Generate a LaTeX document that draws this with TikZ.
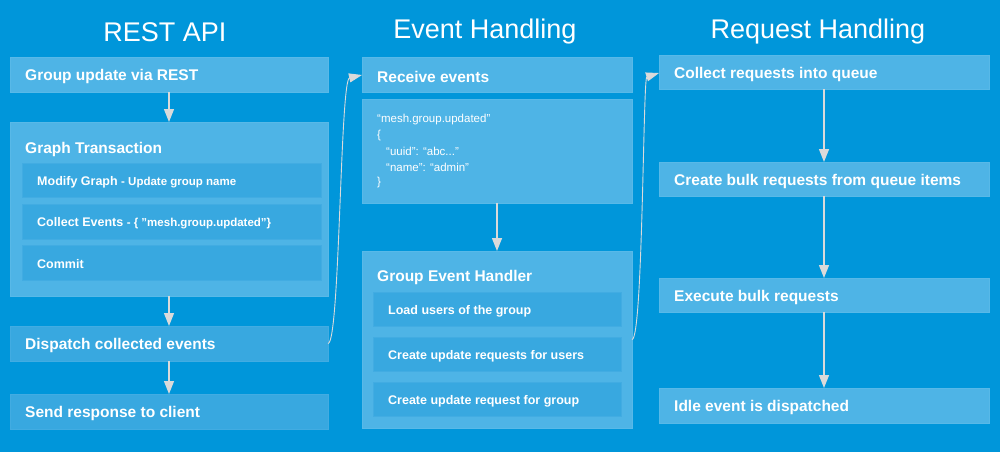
\documentclass[tikz,border=0pt]{standalone}
\usepackage{fontspec}
\setmainfont{Liberation Sans}
\usetikzlibrary{arrows.meta}
\definecolor{bg}{RGB}{0,150,218}
\definecolor{lightbox}{RGB}{78,180,230}
\definecolor{darkbox}{RGB}{56,168,224}
\definecolor{lightedge}{RGB}{88,185,232}
\definecolor{darkedge}{RGB}{66,172,226}
\definecolor{conn}{RGB}{218,218,218}
\tikzset{
  lbox/.style={fill=lightbox, draw=lightedge, line width=0.8pt},
  dbox/.style={fill=darkbox, draw=darkedge, line width=0.8pt},
  title/.style={text=white, font=\fontsize{27}{30}\selectfont, anchor=center, inner sep=0pt},
  lbl/.style={text=white, font=\fontsize{15.5}{18}\selectfont\bfseries, anchor=west, inner sep=0pt, yshift=-2pt},
  slbl/.style={text=white, font=\fontsize{12.5}{15}\selectfont\bfseries, anchor=west, inner sep=0pt, yshift=-2pt},
  json/.style={text=white, font=\fontsize{11.5}{13}\selectfont, anchor=west, inner sep=0pt},
  flow/.style={draw=conn, line width=1.4pt, -{Triangle[length=13pt,width=10pt]}},
  curve/.style={draw=conn, line width=0.9pt, -{Triangle[length=13pt,width=9pt]}},
}
\begin{document}
\begin{tikzpicture}[x=1pt,y=-1pt]
\fill[bg] (0,0) rectangle (1000,452);
\useasboundingbox (0,0) rectangle (1000,452);

% titles
\node[title] (t1) at (165,32) {REST API};
\node[title] (t2) at (485,32) {Event Handling};
\node[title] (t3) at (818,32) {Request Handling};

% ---------- REST API column ----------
\path[lbox] (10,57) rectangle (328,92);
\node[lbl] (gutext) at (25,74.5) {Group update via REST};
\coordinate (guB) at (169,92);

\path[lbox] (10,122) rectangle (328,296);
\coordinate (gtT) at (169,122);
\coordinate (gtB) at (169,296);
\node[lbl] (gttext) at (25,147) {Graph Transaction};

\path[dbox] (22,163) rectangle (321,197);
\node[slbl] (mg) at (37,180) {Modify Graph \fontsize{11.5}{13}\selectfont - Update group name};
\path[dbox] (22,204) rectangle (321,239);
\node[slbl] (ce) at (37,221.5) {Collect Events \fontsize{11.5}{13}\selectfont - \{ "mesh.group.updated"\}};
\path[dbox] (22,245) rectangle (321,280);
\node[slbl] (cm) at (37,262.5) {Commit};

\path[dbox] (10,326) rectangle (328,361);
\coordinate (dcT) at (169,326);
\coordinate (dcB) at (169,361);
\coordinate (dcR) at (328,343.5);
\node[lbl] (dctext) at (25,343.5) {Dispatch collected events};

\path[dbox] (10,394) rectangle (328,429);
\coordinate (srT) at (169,394);
\node[lbl] (srtext) at (25,411.5) {Send response to client};

\draw[flow] (guB) -- (gtT);
\draw[flow] (gtB) -- (dcT);
\draw[flow] (dcB) -- (srT);

% ---------- Event Handling column ----------
\path[lbox] (362,57) rectangle (632,92);
\coordinate (reL) at (362,75);
\node[lbl] (retext) at (377,74.5) {Receive events};

\path[lbox] (362,99) rectangle (632,203);
\coordinate (jsB) at (497,203);
\node[json] (j1) at (377,120) {“mesh.group.updated”};
\node[json] (j2) at (377,136) {\{};
\node[json] (j3) at (386,151.5) {“uuid”: “abc...”};
\node[json] (j4) at (386,167) {“name”: “admin”};
\node[json] (j5) at (377,182.5) {\}};

\path[lbox] (362,251) rectangle (632,428);
\coordinate (gehT) at (497,251);
\coordinate (gehR) at (632,339.5);
\node[lbl] (gehtext) at (377,275) {Group Event Handler};

\path[dbox] (373,292) rectangle (621,326);
\node[slbl] (lu) at (388,309) {Load users of the group};
\path[dbox] (373,337) rectangle (621,371);
\node[slbl] (cu) at (388,354) {Create update requests for users};
\path[dbox] (373,382) rectangle (621,416);
\node[slbl] (cg) at (388,399) {Create update request for group};

\draw[flow] (jsB) -- (gehT);

% ---------- Request Handling column ----------
\path[lbox] (659,55) rectangle (989,89);
\coordinate (crL) at (659,73);
\coordinate (crB) at (824,89);
\node[lbl] (crtext) at (674,72) {Collect requests into queue};

\path[lbox] (659,162) rectangle (989,196);
\coordinate (cbT) at (824,162);
\coordinate (cbB) at (824,196);
\node[lbl] (cbtext) at (674,179) {Create bulk requests from queue items};

\path[lbox] (659,278) rectangle (989,312);
\coordinate (ebT) at (824,278);
\coordinate (ebB) at (824,312);
\node[lbl] (ebtext) at (674,295) {Execute bulk requests};

\path[lbox] (659,388) rectangle (989,423);
\coordinate (ieT) at (824,388);
\node[lbl] (ietext) at (674,405.5) {Idle event is dispatched};

\draw[flow] (crB) -- (cbT);
\draw[flow] (cbB) -- (ebT);
\draw[flow] (ebB) -- (ieT);

% ---------- cross-column curves ----------
\draw[curve] (dcR) .. controls (340,343.5) and (340,80) .. (reL);
\draw[curve] (gehR) .. controls (643,339.5) and (643,78) .. (crL);
\end{tikzpicture}
\end{document}
